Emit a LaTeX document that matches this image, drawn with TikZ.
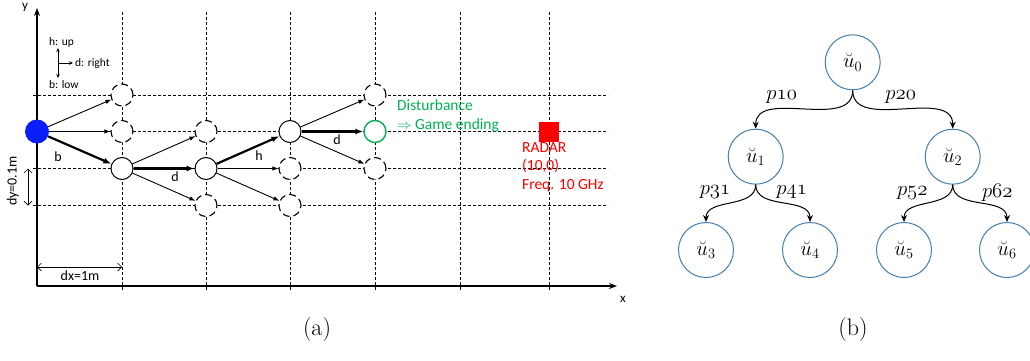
\documentclass[tikz,border=0pt]{standalone}
\usepackage{fontspec}
\newfontfamily\calf{Carlito}
\usetikzlibrary{arrows.meta}
\definecolor{dgreen}{RGB}{0,176,80}
\definecolor{radred}{RGB}{255,0,0}
\definecolor{dotblue}{RGB}{10,30,250}
\definecolor{treeblue}{RGB}{70,125,175}
\tikzset{
  grid/.style={line width=0.7pt, dash pattern=on 3pt off 2pt},
  gnode/.style={circle, draw, line width=1pt, fill=white, minimum size=22pt, inner sep=0pt},
  dnode/.style={gnode, dash pattern=on 7pt off 4pt, line width=1.1pt},
  thin arr/.style={line width=0.9pt, -{Latex[length=6pt,width=4.5pt]}},
  thick arr/.style={line width=2.2pt, -{Latex[length=8pt,width=6pt]}},
  lab/.style={font=\calf\fontsize{14}{16}\selectfont, inner sep=1pt},
  small/.style={font=\calf\fontsize{11.5}{13}\selectfont, inner sep=1pt},
  tnode/.style={circle, draw=treeblue, line width=1pt, minimum size=55pt, inner sep=0pt, font=\fontsize{21}{23}\selectfont},
  tedge/.style={line width=1pt, -{Stealth[length=7pt,width=6pt]}},
  plab/.style={font=\fontsize{22}{24}\selectfont, inner sep=1pt},
}
\begin{document}
\begin{tikzpicture}[x=1pt,y=-1pt]
\useasboundingbox (0,0) rectangle (1030,361);
% grid
\foreach \yy in {95,131.5,168.5,205.5} \draw[grid] (33,\yy) -- (608,\yy);
\foreach \xx in {122,206,290,375,460,549} \draw[grid] (\xx,12) -- (\xx,290);
% axes
\draw[line width=1.3pt, -{Stealth[length=8pt,width=6pt]}] (37,286) -- (37,8);
\draw[line width=1.3pt, -{Stealth[length=8pt,width=6pt]}] (37,286) -- (617,286);
\node[small, font=\calf\fontsize{13}{15}\selectfont] (ylab) at (25,7) {y};
\node[small, font=\calf\fontsize{13}{15}\selectfont] (xlab) at (623,299) {x};
% legend
\coordinate (lc) at (58,63);
\coordinate (lu) at (58,48);
\coordinate (ld) at (58,78);
\coordinate (lr) at (73,63);
\draw[line width=0.8pt, -{Stealth[length=4pt,width=3.5pt]}] (lc) -- (lu);
\draw[line width=0.8pt, -{Stealth[length=4pt,width=3.5pt]}] (lc) -- (ld);
\draw[line width=0.8pt, -{Stealth[length=4pt,width=3.5pt]}] (lc) -- (lr);
\node[small, anchor=west] (hup) at (48,42) {h: up};
\node[small, anchor=west] (dright) at (74,63) {d: right};
\node[small, anchor=west] (blow) at (48,85) {b: low};
% nodes
\node[circle, fill=dotblue, minimum size=24pt, inner sep=0pt] (s) at (37,131.5) {};
\node[dnode] (a1) at (122,95) {};
\node[dnode] (a2) at (122,131.5) {};
\node[gnode] (a3) at (122,168.5) {};
\node[dnode] (b2) at (206,131.5) {};
\node[gnode] (b3) at (206,168.5) {};
\node[dnode] (b4) at (206,205.5) {};
\node[gnode] (c2) at (290,131.5) {};
\node[dnode] (c3) at (290,168.5) {};
\node[dnode] (c4) at (290,205.5) {};
\node[dnode] (d1) at (375,95) {};
\node[gnode, draw=dgreen, line width=1.4pt] (d2) at (375,131.5) {};
\node[dnode] (d3) at (375,168.5) {};
% arrows
\draw[thin arr] (s) -- (a1);
\draw[thin arr] (s) -- (a2);
\draw[thick arr] (s) -- (a3);
\draw[thin arr] (a3) -- (b2);
\draw[thick arr] (a3) -- (b3);
\draw[thin arr] (a3) -- (b4);
\draw[thick arr] (b3) -- (c2);
\draw[thin arr] (b3) -- (c3);
\draw[thin arr] (b3) -- (c4);
\draw[thin arr] (c2) -- (d1);
\draw[thick arr] (c2) -- (d2);
\draw[thin arr] (c2) -- (d3);
\node[lab] (lb) at (58,157) {b};
\node[lab] (ld1) at (175,177) {d};
\node[lab] (lh) at (259,156) {h};
\node[lab] (ld2) at (337,140) {d};
% disturbance
\node[lab, text=dgreen, anchor=west, font=\calf\fontsize{15.5}{18}\selectfont] (dist) at (396,105) {Disturbance};
\node[lab, text=dgreen, anchor=west, font=\calf\fontsize{15.5}{18}\selectfont] (gend) at (396,125) {$\Rightarrow$ Game ending};
% radar
\node[fill=radred, minimum size=20pt, inner sep=0pt] (radar) at (549,131.5) {};
\node[text=radred, anchor=north west, align=left, inner sep=0pt, font=\calf\fontsize{15.5}{18.5}\selectfont] (rtext) at (522,142) {RADAR\\(10,0)\\Freq. 10 GHz};
% dimensions
\coordinate (dy1) at (28,168.5);
\coordinate (dy2) at (28,205.5);
\draw[line width=0.6pt, {Straight Barb[length=4pt]}-{Straight Barb[length=4pt]}] (dy1) -- (dy2);
\node[lab, rotate=90] (dylab) at (13,181) {dy=0.1m};
\coordinate (dx1) at (37,267);
\coordinate (dx2) at (122,267);
\draw[line width=0.6pt, {Straight Barb[length=4pt]}-{Straight Barb[length=4pt]}] (dx1) -- (dx2);
\node[lab] (dxlab) at (80,276) {dx=1m};
% captions
\node[font=\fontsize{24}{28}\selectfont] (capa) at (317,330) {(a)};
\node[font=\fontsize{24}{28}\selectfont] (capb) at (853,330) {(b)};
% tree
\node[tnode] (u0) at (852.7,62.3) {$\breve{u}_0$};
\node[tnode] (u1) at (755.7,156.7) {$\breve{u}_1$};
\node[tnode] (u2) at (952.7,156.7) {$\breve{u}_2$};
\node[tnode] (u3) at (706,250) {$\breve{u}_3$};
\node[tnode] (u4) at (810,250) {$\breve{u}_4$};
\node[tnode] (u5) at (904,250) {$\breve{u}_5$};
\node[tnode] (u6) at (1007,250) {$\breve{u}_6$};
\draw[tedge] (u0.south) to[out=-90,in=90] (u1.north);
\draw[tedge] (u0.south) to[out=-90,in=90] (u2.north);
\draw[tedge] (u1.south) to[out=-90,in=90] (u3.north);
\draw[tedge] (u1.south) to[out=-90,in=90] (u4.north);
\draw[tedge] (u2.south) to[out=-90,in=90] (u5.north);
\draw[tedge] (u2.south) to[out=-90,in=90] (u6.north);
\node[plab] (p10) at (781.7,97) {$\mathnormal{p10}$};
\node[plab] (p20) at (900.7,97) {$\mathnormal{p20}$};
\node[plab] (p31) at (715,191.7) {$\mathnormal{p31}$};
\node[plab] (p41) at (791.7,191.7) {$\mathnormal{p41}$};
\node[plab] (p52) at (912.3,193.3) {$\mathnormal{p52}$};
\node[plab] (p62) at (997.3,193.3) {$\mathnormal{p62}$};
\end{tikzpicture}
\end{document}
